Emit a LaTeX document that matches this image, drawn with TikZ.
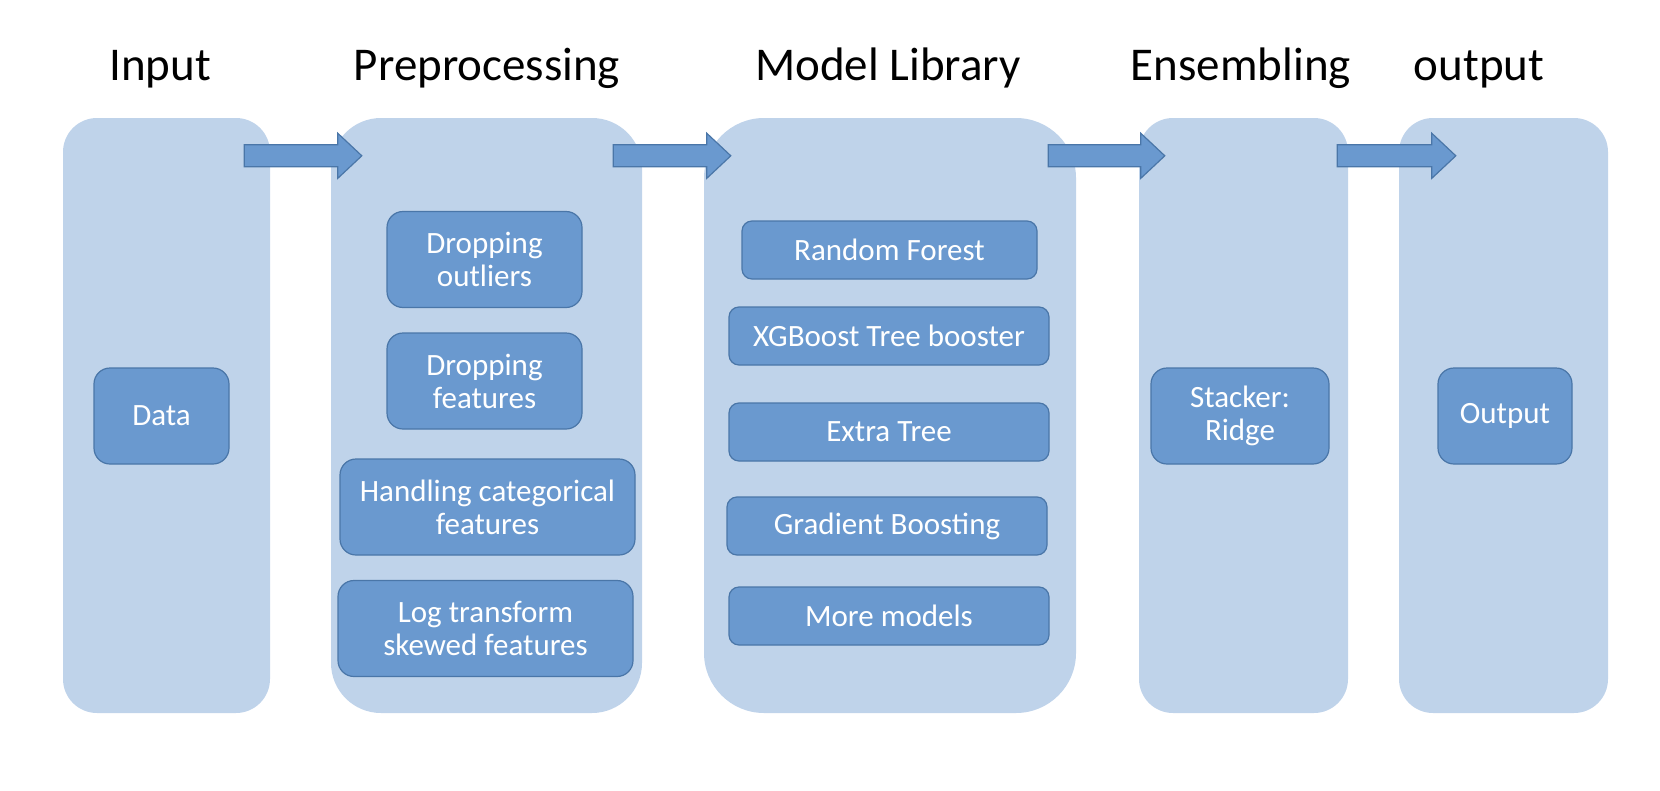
\documentclass[tikz,border=0pt]{standalone}
\usepackage{fontspec}
\setmainfont{Carlito}
\usetikzlibrary{calc}
\definecolor{panelblue}{HTML}{BFD3EA}
\definecolor{boxblue}{HTML}{6A99CF}
\definecolor{boxline}{HTML}{4A76A8}

\begin{document}
\begin{tikzpicture}[x=1pt,y=-1pt]
	\tikzstyle{mypanel}=[fill=panelblue, inner sep=0pt, minimum height=595pt]
	\tikzstyle{mybox}=[draw=boxline, line width=1.2pt, fill=boxblue, text=white, align=center, inner sep=0pt, font=\fontsize{31}{33}\selectfont]
	% the small boxes of the model library
	\tikzstyle{mybox}+=[rounded corners=16pt, minimum height=96pt]
	\tikzstyle{mymodel}=[mybox, rounded corners=10pt, minimum height=58pt, minimum width=320pt]
	\tikzstyle{mytitle}=[anchor=base, inner sep=0pt, font=\fontsize{47}{50}\selectfont]
	\tikzstyle{myarrow}=[draw=boxline, line width=1.2pt, fill=boxblue, line join=miter]

	\useasboundingbox (0,0) rectangle (1660,790);

	% columns
	\node[mypanel, minimum width=207pt, rounded corners=34pt] (pin) at (166.5,415.5) {};
	\node[mypanel, minimum width=311pt, rounded corners=50pt] (ppre) at (486.5,415.5) {};
	\node[mypanel, minimum width=372pt, rounded corners=60pt] (pmod) at (890,415.5) {};
	\node[mypanel, minimum width=209pt, rounded corners=34pt] (pens) at (1243.5,415.5) {};
	\node[mypanel, minimum width=209pt, rounded corners=34pt] (pout) at (1503.5,415.5) {};

	\node[mytitle] (tin) at (160,80) {Input};
	\node[mytitle] (tpre) at (487,80) {Preprocessing};
	\node[mytitle] (tmod) at (888,80) {Model Library};
	\node[mytitle] (tens) at (1241,80) {Ensembling};
	\node[mytitle] (tout) at (1479,80) {output};

	% block arrows between the columns
	\foreach \from/\to/\sa/\sb in {pin/ppre/-26/31, ppre/pmod/-29/27, pmod/pens/-28/26, pens/pout/-11/57}
		\draw[myarrow] let \p1=([shift={(\sa,38)}]\from.north east), \p2=([shift={(\sb,38)}]\to.north west) in
			(\x1,\y1+11pt) -- (\x2-24pt,\y1+11pt) -- (\x2-24pt,\y1+22.5pt) -- (\x2,\y1)
			-- (\x2-24pt,\y1-22.5pt) -- (\x2-24pt,\y1-11pt) -- (\x1,\y1-11pt) -- cycle;

	\node[mybox, minimum width=135pt] (data) at (161.5,416) {Data};

	\node[mybox, minimum width=195pt] (outliers) at (484.5,259.5) {Dropping\\outliers};
	\node[mybox, minimum width=195pt] (features) at (484.5,381) {Dropping\\features};
	\node[mybox, minimum width=295pt] (categorical) at (487.5,507) {Handling categorical\\features};
	\node[mybox, minimum width=295pt] (skewed) at (485.5,628.5) {Log transform\\skewed features};

	\node[mymodel, minimum width=295pt] (forest) at (889.5,250) {Random Forest};
	\node[mymodel] (xgb) at (889,336) {XGBoost Tree booster};
	\node[mymodel] (extra) at (889,432) {Extra Tree};
	\node[mymodel] (gboost) at (887,526) {Gradient Boosting};
	\node[mymodel] (more) at (889,616) {More models};

	\node[mybox, minimum width=178pt] (stacker) at (1240,416) {Stacker:\\Ridge};
	\node[mybox, minimum width=134pt] (output) at (1505,416) {Output};
\end{tikzpicture}
\end{document}
